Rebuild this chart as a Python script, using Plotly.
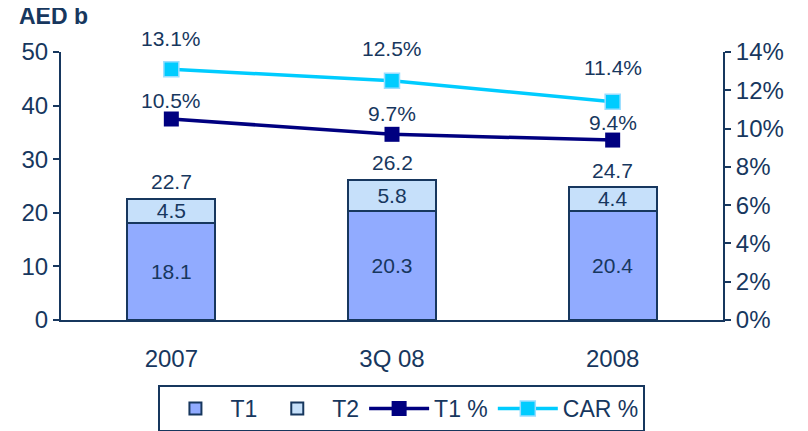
import plotly.graph_objects as go

categories = ["2007", "3Q 08", "2008"]
t1 = [18.1, 20.3, 20.4]
t2 = [4.5, 5.8, 4.4]
totals = [22.7, 26.2, 24.7]
t1_pct = [10.5, 9.7, 9.4]
car_pct = [13.1, 12.5, 11.4]

navy_text = "#17375e"
font = "Liberation Sans, Arial, sans-serif"
lbl = 21

fig = go.Figure()

fig.add_trace(go.Bar(
    x=categories, y=t1, name="T1", width=0.4,
    marker=dict(color="#91abff", line=dict(color=navy_text, width=2)),
    text=[f"{v:.1f}" for v in t1], textposition="inside", insidetextanchor="middle",
    constraintext="none", textfont=dict(size=lbl, color=navy_text),
))
fig.add_trace(go.Bar(
    x=categories, y=t2, name="T2", width=0.4,
    marker=dict(color="#c6e0fa", line=dict(color=navy_text, width=2)),
    text=[f"{v:.1f}" for v in t2], textposition="inside", insidetextanchor="middle",
    constraintext="none", textfont=dict(size=lbl, color=navy_text),
))
fig.add_trace(go.Scatter(
    x=categories, y=t1_pct, name="T1 %", yaxis="y2", mode="lines+markers",
    line=dict(color="#000080", width=3.5),
    marker=dict(symbol="square", size=15, color="#000080"),
))
fig.add_trace(go.Scatter(
    x=categories, y=car_pct, name="CAR %", yaxis="y2", mode="lines+markers",
    line=dict(color="#00ccff", width=3.5),
    marker=dict(symbol="square", size=15, color="#00ccff",
                line=dict(color="#99ddff", width=1.5)),
))

# totals above the stacked bars (x given as category index)
for i, v in enumerate(totals):
    fig.add_annotation(x=i, y=v, text=f"{v:.1f}", showarrow=False, yanchor="middle",
                       yshift=17, font=dict(size=lbl, color=navy_text))

# labels above the percentage markers
for i, (v, s) in enumerate(zip(car_pct, [31, 32, 34])):
    fig.add_annotation(x=i, y=v, yref="y2", text=f"{v:.1f}%", showarrow=False,
                       yshift=s, font=dict(size=lbl, color=navy_text))
for i, (v, s) in enumerate(zip(t1_pct, [19, 21, 18])):
    fig.add_annotation(x=i, y=v, yref="y2", text=f"{v:.1f}%", showarrow=False,
                       yshift=s, font=dict(size=lbl, color=navy_text))

fig.add_annotation(xref="paper", yref="paper", x=-0.066, y=1.134,
                   xanchor="left", yanchor="middle", text="<b>AED b</b>",
                   showarrow=False, font=dict(size=23, color=navy_text))

fig.update_layout(
    width=808, height=431,
    margin=dict(l=53, r=93, t=44, b=119, autoexpand=False),
    barmode="stack",
    paper_bgcolor="white", plot_bgcolor="white",
    font=dict(family=font, size=23, color=navy_text),
    showlegend=True,
    legend=dict(orientation="h", x=0.515, xanchor="center", y=-0.2425, yanchor="top",
                bordercolor=navy_text, borderwidth=2, font=dict(size=23, color=navy_text),
                traceorder="normal", itemwidth=60),
    xaxis=dict(type="category", range=[-0.5, 2.5], showline=True, linecolor=navy_text,
               linewidth=2, ticks="outside", ticklen=16, tickcolor="rgba(0,0,0,0)",
               showgrid=False, tickfont=dict(size=24, color=navy_text)),
    yaxis=dict(range=[0, 50], dtick=10, showline=True, linecolor=navy_text, linewidth=2,
               ticks="outside", ticklen=6, tickcolor=navy_text, tickwidth=2, showgrid=False,
               zeroline=False, tickfont=dict(size=24, color=navy_text)),
    yaxis2=dict(range=[0, 14], dtick=2, overlaying="y", side="right", showline=True,
                linecolor=navy_text, linewidth=2, ticks="outside", ticklen=6,
                tickcolor=navy_text, tickwidth=2, showgrid=False, zeroline=False,
                ticksuffix="%", tickfont=dict(size=24, color=navy_text)),
)

fig.write_html("out.html")
